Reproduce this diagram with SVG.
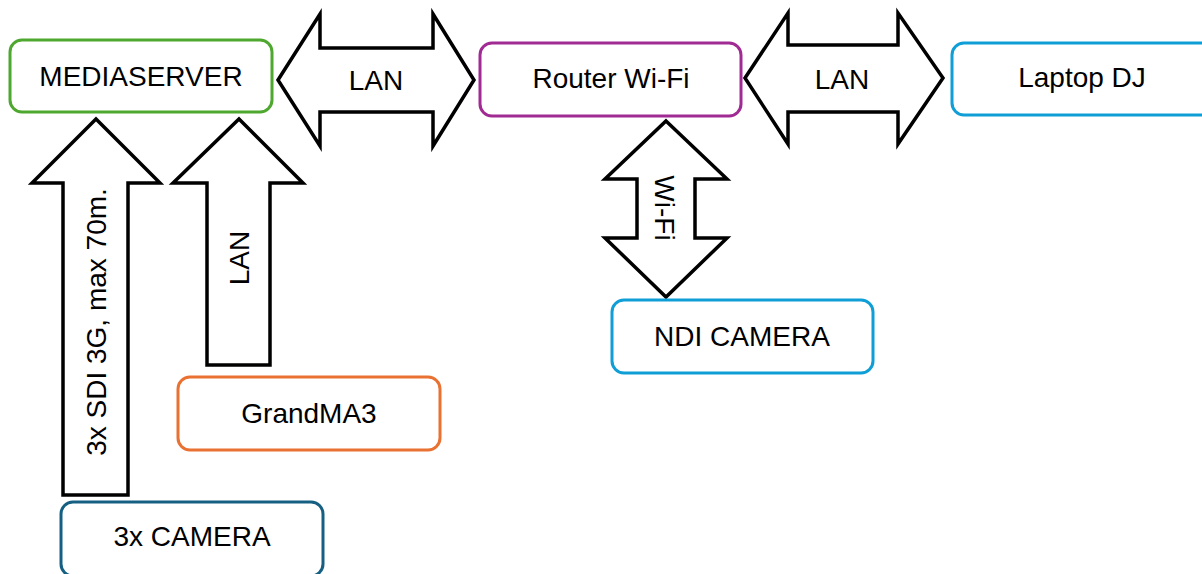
<svg xmlns="http://www.w3.org/2000/svg" width="1202" height="574" viewBox="0 0 1202 574">
<style>
.box{fill:#fff;stroke-width:3}
.arr{fill:#fff;stroke:#000;stroke-width:3.5;stroke-linejoin:miter}
text{font-family:"Liberation Sans",Arial,sans-serif;font-size:28px;fill:#000;text-anchor:middle}
</style>
<rect width="1202" height="574" fill="#fff"/>
<g id="connectors">
<g id="lan1"><polygon class="arr" points="278,80 320,14 320,48 433,48 433,14 474,80 433,146 433,112 320,112 320,146"/><text x="376" y="90">LAN</text></g>
<g id="lan2"><polygon class="arr" points="745,78 788,13 788,45 898,45 898,13 943,78 898,144 898,112 788,112 788,144"/><text x="842" y="89">LAN</text></g>
<g id="sdi"><polygon class="arr" points="96,119 160,183 128,183 128,495 63,495 63,183 32,183"/><text transform="translate(106,322) rotate(-90)">3x SDI 3G, max 70m.</text></g>
<g id="lan3"><polygon class="arr" points="239,119 303,183 270,183 270,365 207,365 207,183 173,183"/><text transform="translate(249,258) rotate(-90)">LAN</text></g>
<g id="wifi"><polygon class="arr" points="666,121 727,179 695,179 695,238 727,238 666,297 605,238 637,238 637,179 605,179"/><text transform="translate(655,208) rotate(90)">Wi-Fi</text></g>
</g>
<g id="mediaserver"><rect class="box" x="10" y="40" width="262" height="72" rx="12" stroke="#4EA72E"/><text x="141" y="86">MEDIASERVER</text></g>
<g id="router"><rect class="box" x="480" y="43" width="261" height="73" rx="12" stroke="#A02B93"/><text x="611" y="88">Router Wi-Fi</text></g>
<g id="laptop"><rect class="box" x="952" y="43" width="261" height="72" rx="12" stroke="#0F9ED5"/><text x="1082" y="87">Laptop DJ</text></g>
<g id="ndi"><rect class="box" x="612" y="300" width="261" height="73" rx="12" stroke="#0F9ED5"/><text x="742" y="346">NDI CAMERA</text></g>
<g id="grandma"><rect class="box" x="178" y="377" width="262" height="73" rx="12" stroke="#E97132"/><text x="309" y="423">GrandMA3</text></g>
<g id="camera"><rect class="box" x="61" y="502" width="262" height="74" rx="12" stroke="#156082"/><text x="192" y="546">3x CAMERA</text></g>
</svg>
